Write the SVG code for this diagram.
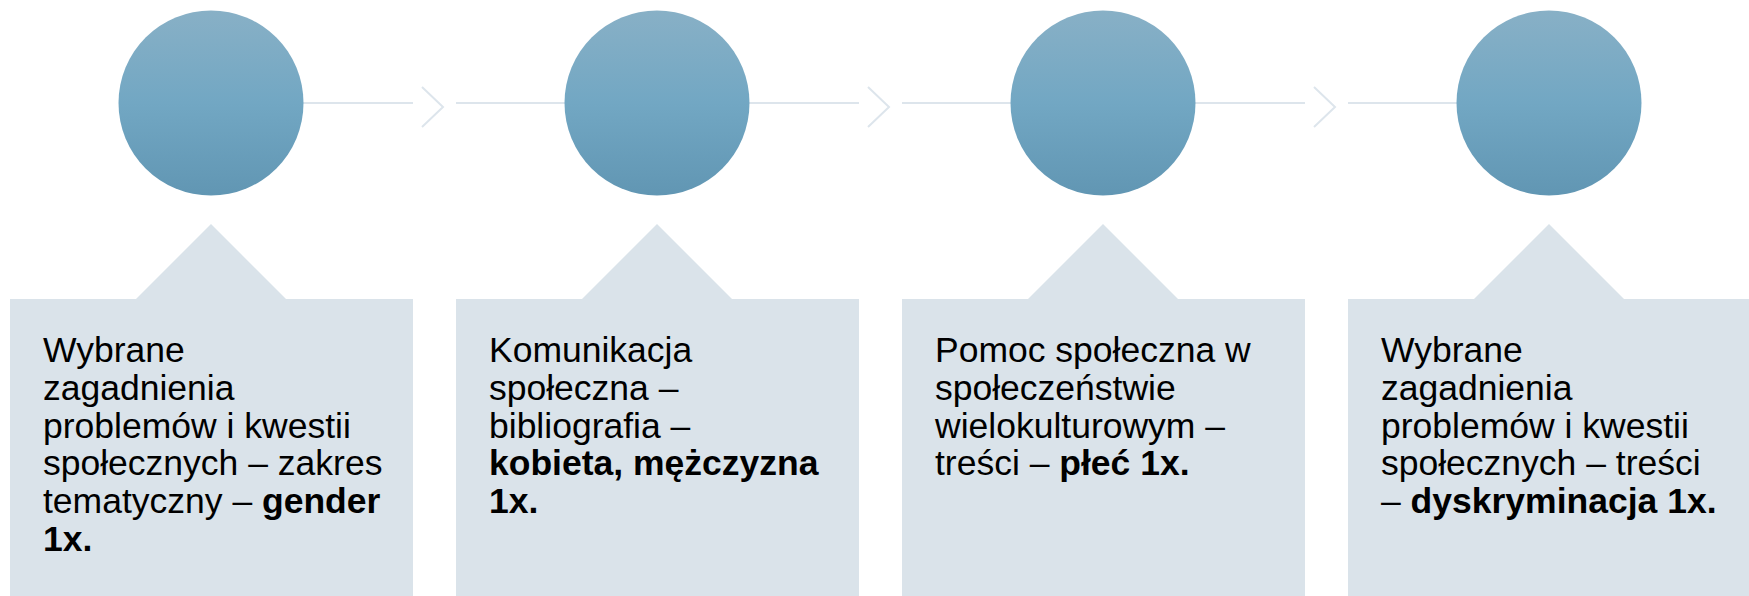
<svg xmlns="http://www.w3.org/2000/svg" width="1749" height="596" viewBox="0 0 1749 596">
<style>
.box{fill:#dae3ea}
.circ{fill:url(#cg)}
.conn{stroke:#dde5ec;stroke-width:2;fill:none}
.t{font-family:"Liberation Sans",Arial,sans-serif;font-size:35.5px;fill:#000}
.b{font-weight:bold}
</style>
<defs>
<linearGradient id="cg" x1="0" y1="0" x2="0" y2="1">
<stop offset="0" stop-color="#88b0c6"/>
<stop offset="0.5" stop-color="#72a7c3"/>
<stop offset="1" stop-color="#6196b3"/>
</linearGradient>
</defs>
<g id="connectors">
<line class="conn" x1="303" y1="103" x2="413" y2="103"/>
<polyline class="conn" points="422,87 443,107 422,127"/>
<line class="conn" x1="456" y1="103" x2="565" y2="103"/>
<line class="conn" x1="749" y1="103" x2="859" y2="103"/>
<polyline class="conn" points="868,87 889,107 868,127"/>
<line class="conn" x1="902" y1="103" x2="1011" y2="103"/>
<line class="conn" x1="1195" y1="103" x2="1305" y2="103"/>
<polyline class="conn" points="1314,87 1335,107 1314,127"/>
<line class="conn" x1="1348" y1="103" x2="1457" y2="103"/>
</g>
<g id="node1">
<circle class="circ" cx="211" cy="103" r="92.5"/>
<path class="box" d="M10,299 H136 L211,224 L286,299 H413 V596 H10 Z"/>
<text class="t" x="43" y="362">
<tspan x="43" y="362">Wybrane</tspan>
<tspan x="43" y="399.8">zagadnienia</tspan>
<tspan x="43" y="437.6">problemów i kwestii</tspan>
<tspan x="43" y="475.4">społecznych – zakres</tspan>
<tspan x="43" y="513.2">tematyczny – <tspan class="b">gender</tspan></tspan>
<tspan x="43" y="551" class="b">1x.</tspan>
</text>
</g>
<g id="node2">
<circle class="circ" cx="657" cy="103" r="92.5"/>
<path class="box" d="M456,299 H582 L657,224 L732,299 H859 V596 H456 Z"/>
<text class="t" x="489" y="362">
<tspan x="489" y="362">Komunikacja</tspan>
<tspan x="489" y="399.8">społeczna –</tspan>
<tspan x="489" y="437.6">bibliografia –</tspan>
<tspan x="489" y="475.4" class="b">kobieta, mężczyzna</tspan>
<tspan x="489" y="513.2" class="b">1x.</tspan>
</text>
</g>
<g id="node3">
<circle class="circ" cx="1103" cy="103" r="92.5"/>
<path class="box" d="M902,299 H1028 L1103,224 L1178,299 H1305 V596 H902 Z"/>
<text class="t" x="935" y="362">
<tspan x="935" y="362">Pomoc społeczna w</tspan>
<tspan x="935" y="399.8">społeczeństwie</tspan>
<tspan x="935" y="437.6">wielokulturowym –</tspan>
<tspan x="935" y="475.4">treści – <tspan class="b">płeć 1x.</tspan></tspan>
</text>
</g>
<g id="node4">
<circle class="circ" cx="1549" cy="103" r="92.5"/>
<path class="box" d="M1348,299 H1474 L1549,224 L1624,299 H1749 V596 H1348 Z"/>
<text class="t" x="1381" y="362">
<tspan x="1381" y="362">Wybrane</tspan>
<tspan x="1381" y="399.8">zagadnienia</tspan>
<tspan x="1381" y="437.6">problemów i kwestii</tspan>
<tspan x="1381" y="475.4">społecznych – treści</tspan>
<tspan x="1381" y="513.2">– <tspan class="b">dyskryminacja 1x.</tspan></tspan>
</text>
</g>
</svg>
